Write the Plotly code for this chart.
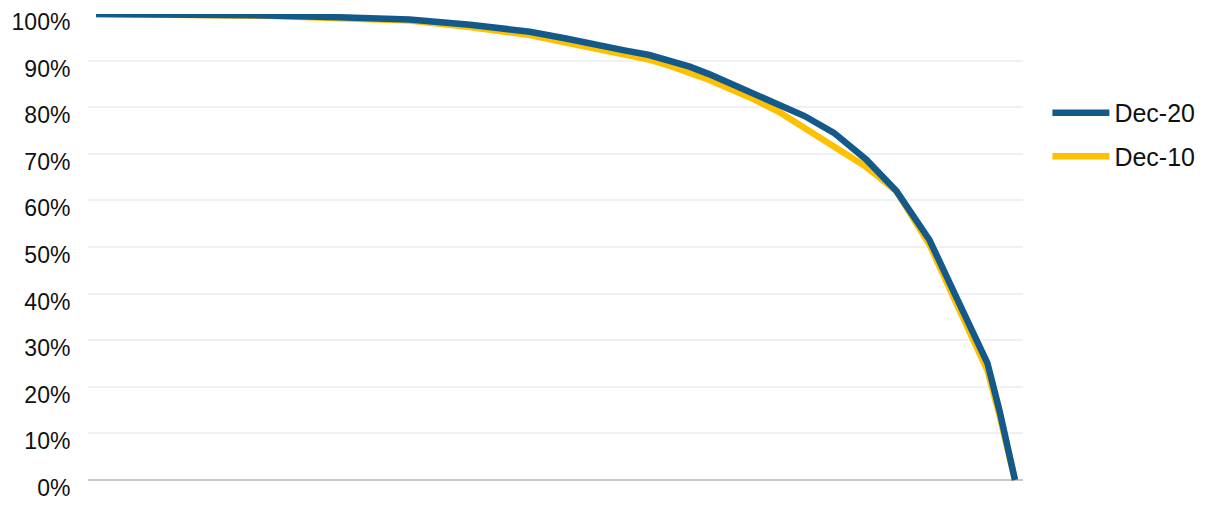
import plotly.graph_objects as go

# position along the curve (0-100)
share_x = [0, 9.1, 18.6, 26.5, 34.1, 40.7, 47.2, 51.0, 54.8, 57.5, 60.2, 62.4,
           64.6, 66.7, 68.9, 71.6, 74.3, 77.1, 80.3, 83.8, 87.1, 90.7, 93.6,
           97.0, 98.3, 100]

dec_20 = [100, 99.9, 99.7, 99.3, 98.8, 97.7, 96.2, 94.8, 93.1, 92.2, 91.2, 90.0,
          88.7, 87.1, 85.2, 83.1, 80.6, 78.1, 74.5, 68.8, 62.0, 51.5, 39.3,
          25.1, 15.0, 0]
dec_10 = [100, 99.9, 99.6, 99.1, 98.6, 97.2, 95.5, 93.9, 92.3, 91.3, 90.2, 88.9,
          87.5, 85.9, 84.0, 81.7, 79.0, 75.6, 71.5, 67.2, 62.0, 50.5, 38.0,
          23.5, 14.0, 0]

series_names = ["Dec-10", "Dec-20"]
series_colors = ["#ffc000", "#135a8a"]
legend_ranks = [2, 1]

fig = go.Figure()
for name, vals, color, rank in zip(series_names, [dec_10, dec_20], series_colors, legend_ranks):
    fig.add_trace(go.Scatter(
        x=share_x,
        y=[v / 100 for v in vals],
        name=name,
        legendgroup=name,
        legendrank=rank,
        mode="lines",
        line=dict(color=color, width=6.5),
    ))

# empty trace so the label axis (y2) gets drawn
fig.add_trace(go.Scatter(x=[], y=[], yaxis="y2", showlegend=False, hoverinfo="skip"))

# tick labels sit a few px below their gridlines in the original,
# so the labels live on an overlaid axis shifted by that amount
pad = 0.01717

fig.update_layout(
    width=1211,
    height=505,
    plot_bgcolor="white",
    paper_bgcolor="white",
    font=dict(family="Liberation Sans, Arial, sans-serif", size=23, color="#111"),
    margin=dict(l=88, r=187, t=14, b=17),
    showlegend=True,
    legend=dict(
        traceorder="grouped",
        x=1.025, xanchor="left",
        y=0.746, yanchor="middle",
        font=dict(size=25),
        tracegroupgap=8,
        itemwidth=57,
    ),
    xaxis=dict(
        range=[-0.87, 100.87],
        showgrid=False,
        showticklabels=False,
        zeroline=False,
        showline=False,
    ),
    yaxis=dict(
        range=[-pad, 1],
        dtick=0.1,
        tick0=0,
        automargin=False,
        showticklabels=False,
        showgrid=True,
        gridcolor="#eef0f3",
        gridwidth=2,
        zeroline=True,
        zerolinecolor="#c5c9cd",
        zerolinewidth=2,
    ),
    yaxis2=dict(
        overlaying="y",
        anchor="x",
        side="left",
        range=[0, 1 + pad],
        dtick=0.1,
        tick0=0,
        tickformat=".0%",
        automargin=False,
        showgrid=False,
        zeroline=False,
        ticks="outside",
        ticklen=12,
        tickcolor="rgba(0,0,0,0)",
    ),
)

# drop the default body margin so the chart sits at the page corner
fig.write_html(
    "out.html",
    config={"displayModeBar": False},
    post_script="document.body.style.margin='0';",
)
